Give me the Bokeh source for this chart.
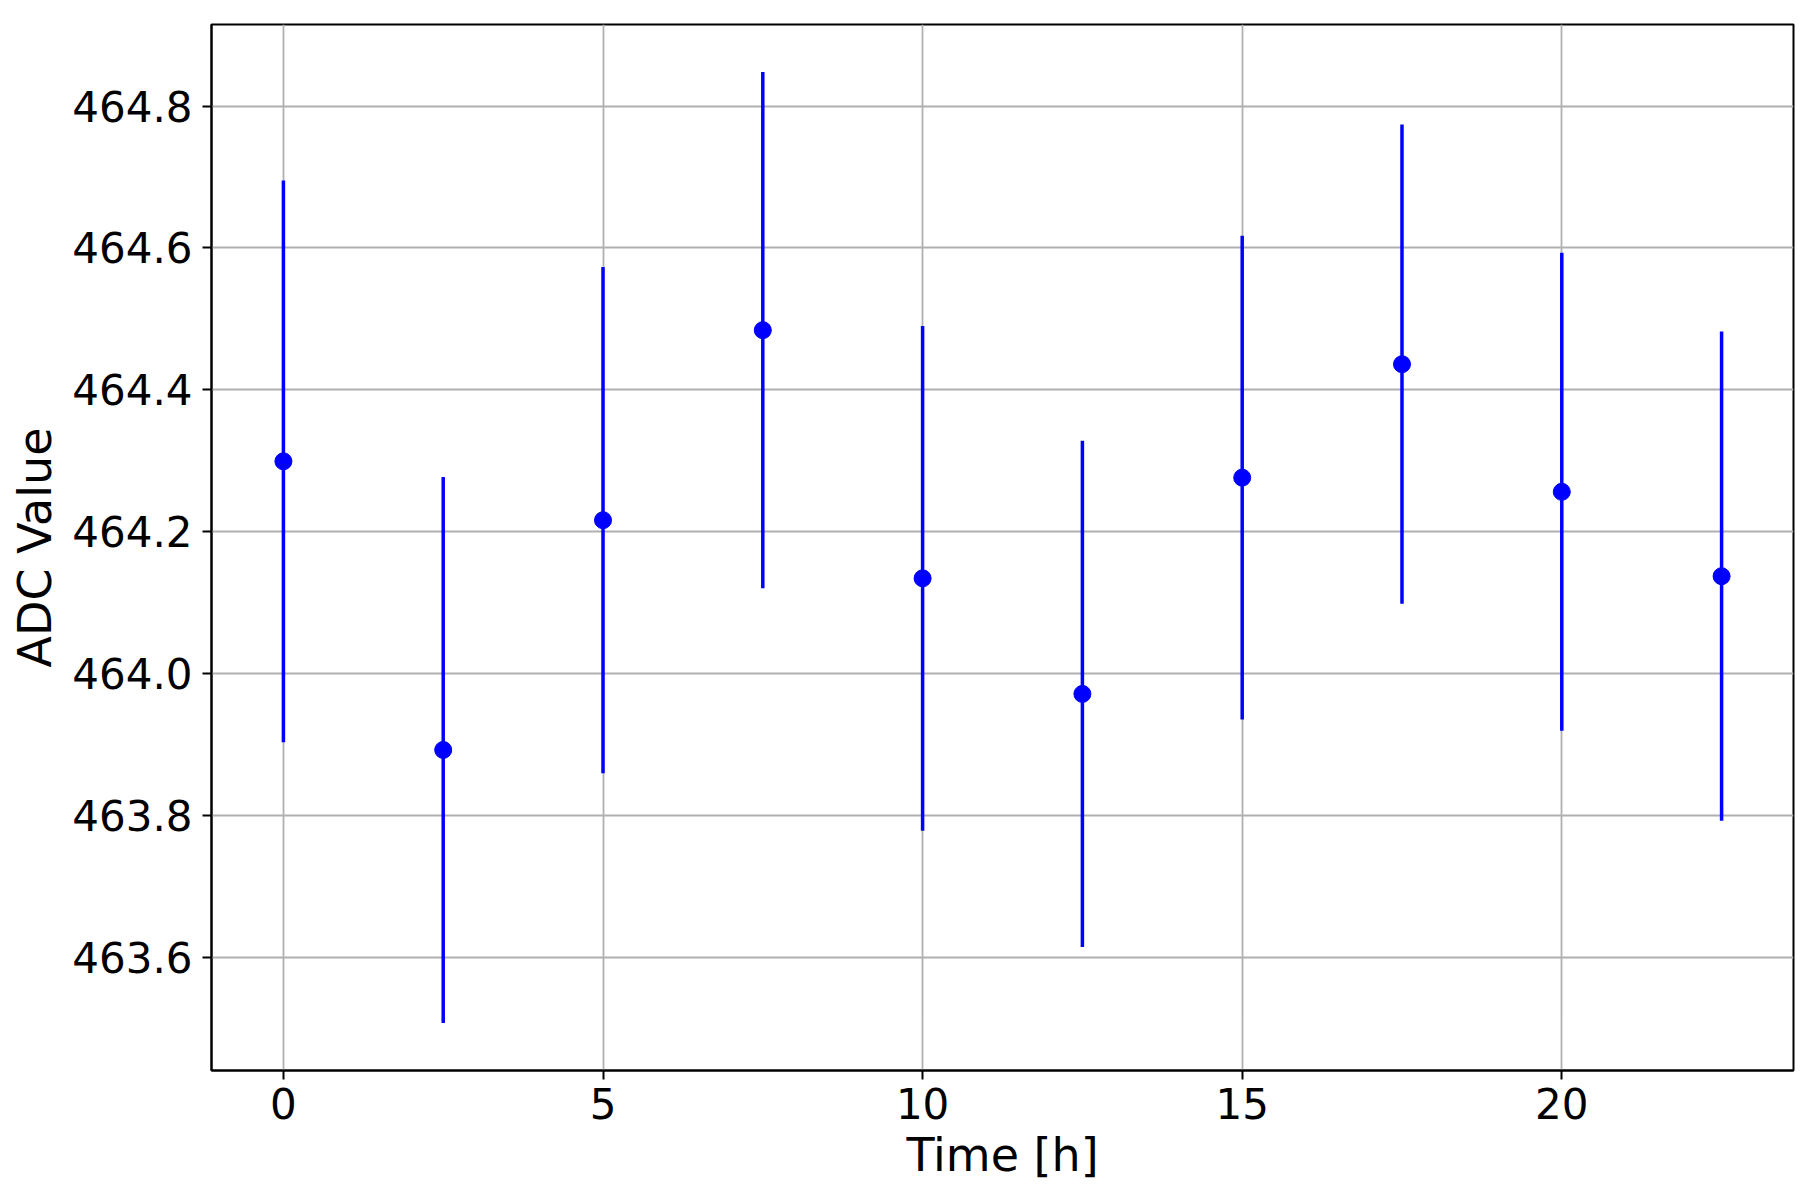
from bokeh.plotting import figure
from bokeh.models import ColumnDataSource, Range1d, SingleIntervalTicker, PrintfTickFormatter
from bokeh.embed import file_html
from bokeh.resources import INLINE

# Data
time_h = [0.0, 2.5, 5.0, 7.5, 10.0, 12.5, 15.0, 17.5, 20.0, 22.5]
adc_value = [464.299, 463.892, 464.216, 464.484, 464.134, 463.971, 464.276, 464.436, 464.256, 464.137]
adc_error = [0.396, 0.385, 0.357, 0.364, 0.356, 0.357, 0.341, 0.338, 0.337, 0.345]

lower = [v - e for v, e in zip(adc_value, adc_error)]
upper = [v + e for v, e in zip(adc_value, adc_error)]
src = ColumnDataSource(dict(x=time_h, y=adc_value, lo=lower, hi=upper))

# matplotlib-like 5% margins
xmin, xmax = min(time_h), max(time_h)
ymin, ymax = min(lower), max(upper)
xm = 0.05 * (xmax - xmin)
ym = 0.05 * (ymax - ymin)

FONT = "DejaVu Sans"

p = figure(width=1808, height=1184, output_backend="svg", toolbar_location=None,
           x_range=Range1d(xmin - xm, xmax + xm), y_range=Range1d(ymin - ym, ymax + ym),
           min_border_left=211, min_border_right=15, min_border_top=24, min_border_bottom=113)

p.segment(x0="x", y0="lo", x1="x", y1="hi", source=src, line_color="#0000ff", line_width=3.5)
p.scatter(x="x", y="y", source=src, size=17, marker="circle", fill_color="#0000ff", line_color="#0000ff")

p.outline_line_color = "black"
p.outline_line_width = 2
p.outline_line_alpha = 1.0

p.xaxis.ticker = SingleIntervalTicker(interval=5, num_minor_ticks=0)
p.yaxis.ticker = SingleIntervalTicker(interval=0.2, num_minor_ticks=0)
p.yaxis.formatter = PrintfTickFormatter(format="%.1f")

for ax in (p.xaxis[0], p.yaxis[0]):
    ax.axis_line_color = "black"
    ax.axis_line_width = 2
    ax.major_tick_in = 0
    ax.major_tick_out = 9
    ax.major_tick_line_width = 2
    ax.major_tick_line_color = "black"
    ax.minor_tick_line_color = None
    ax.major_label_text_font = FONT
    ax.major_label_text_font_size = "42px"
    ax.major_label_text_color = "black"
    ax.axis_label_text_font = FONT
    ax.axis_label_text_font_size = "46px"
    ax.axis_label_text_font_style = "normal"
    ax.axis_label_text_color = "black"

p.xaxis.axis_label = "Time [h]"
p.yaxis.axis_label = "ADC Value"
p.xaxis.major_label_standoff = 8
p.yaxis.major_label_standoff = 10
p.xaxis.axis_label_standoff = 6
p.yaxis.axis_label_standoff = 7

p.xgrid.grid_line_color = "#b0b0b0"
p.ygrid.grid_line_color = "#b0b0b0"
p.xgrid.grid_line_width = 1.8
p.ygrid.grid_line_width = 1.8

p.background_fill_color = "white"
p.border_fill_color = "white"

open("out.html", "w").write(file_html(p, INLINE))
